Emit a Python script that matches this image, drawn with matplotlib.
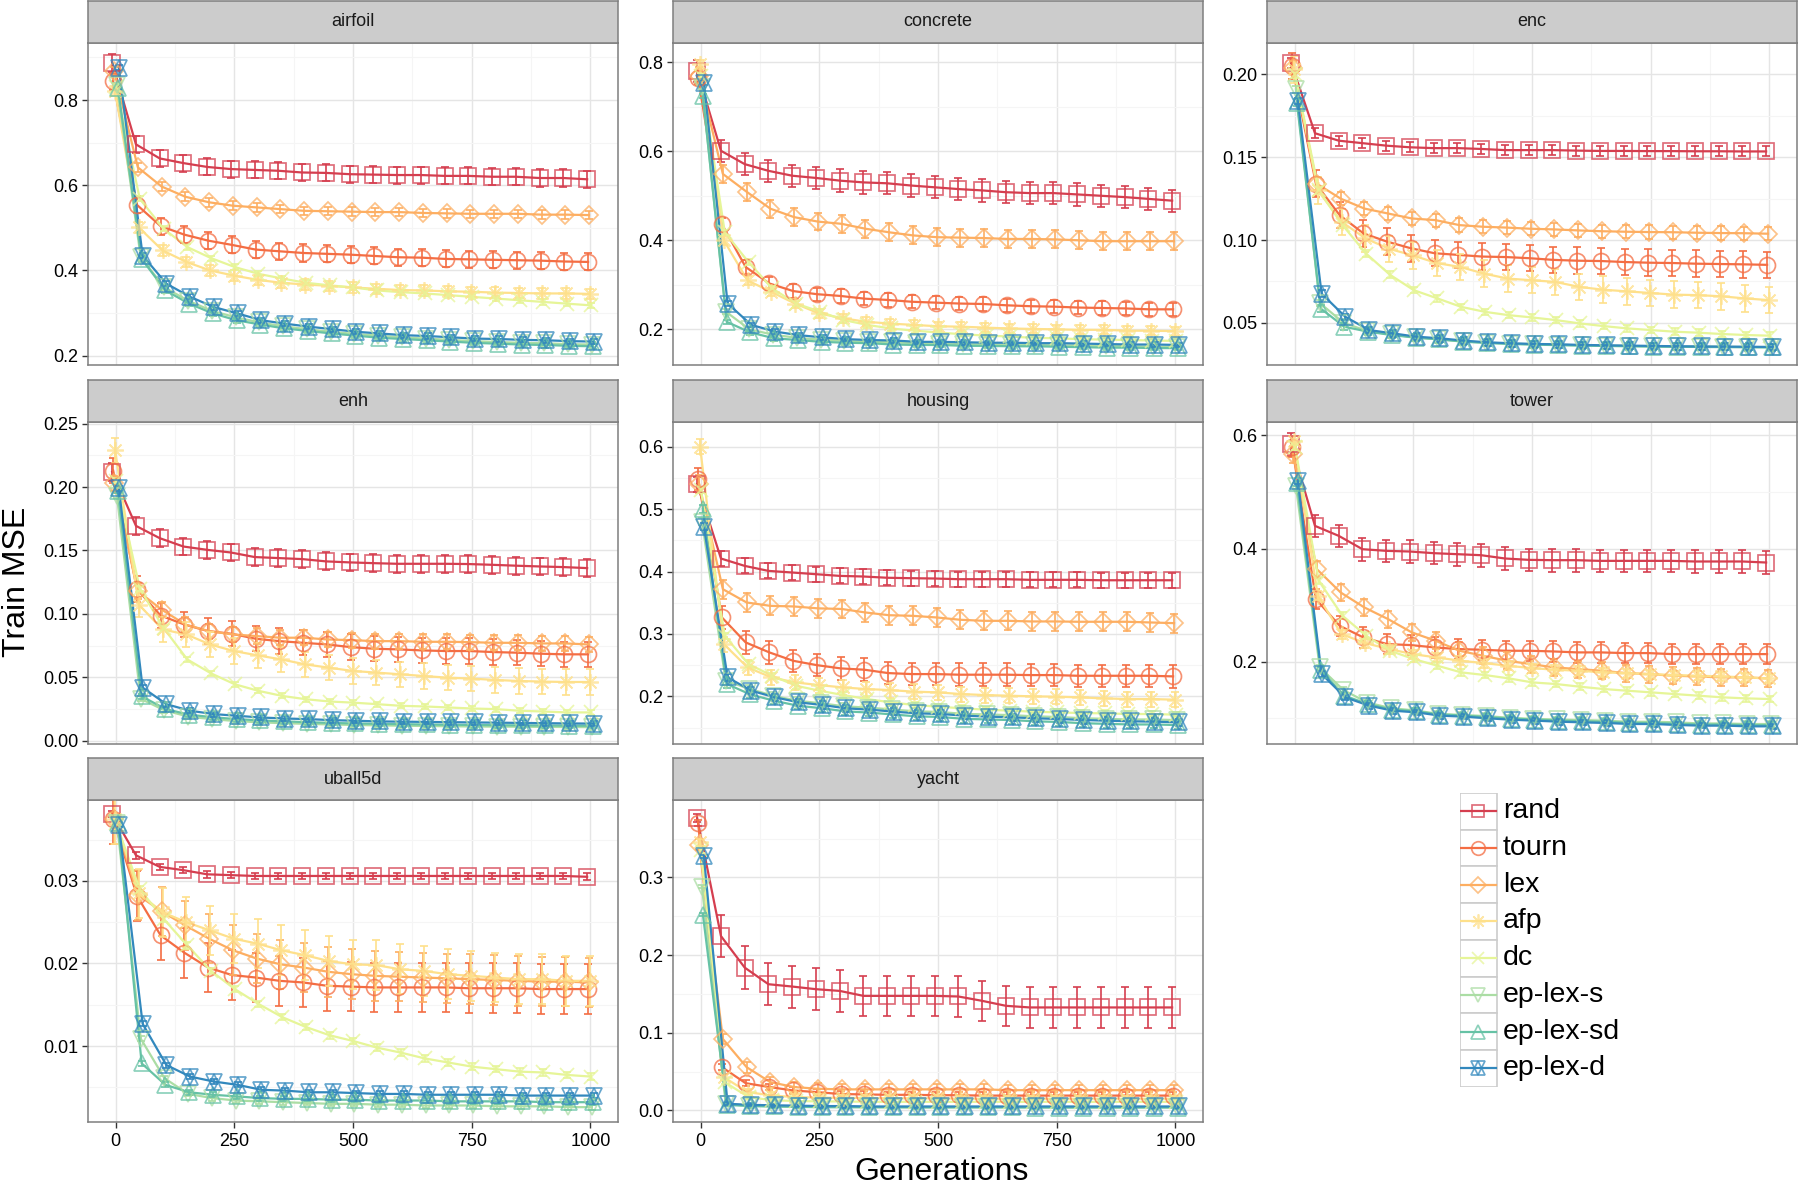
# Curvas de Train MSE por geração, um painel por conjunto de dados (estilo facet_wrap do ggplot).

import matplotlib

matplotlib.use("Agg")

import matplotlib.pyplot as plt
from matplotlib.patches import Rectangle
from matplotlib.ticker import FixedLocator, FormatStrFormatter

plt.rcParams["font.family"] = ["Liberation Sans", "DejaVu Sans"]

# ---------------------------------------------------------------- dados
GENS = list(range(0, 1001, 50))

SERIES = ["rand", "tourn", "lex", "afp", "dc", "ep-lex-s", "ep-lex-sd", "ep-lex-d"]

airfoil = {
    "rand": [0.887, 0.696, 0.663, 0.652, 0.643, 0.638, 0.636, 0.634, 0.630, 0.629, 0.626, 0.625, 0.624, 0.624, 0.622, 0.622, 0.620, 0.620, 0.617, 0.617, 0.614],
    "tourn": [0.844, 0.554, 0.504, 0.484, 0.470, 0.460, 0.449, 0.445, 0.441, 0.439, 0.437, 0.434, 0.431, 0.430, 0.427, 0.426, 0.425, 0.424, 0.423, 0.421, 0.420],
    "lex": [0.868, 0.642, 0.597, 0.573, 0.560, 0.552, 0.548, 0.544, 0.540, 0.539, 0.538, 0.537, 0.537, 0.535, 0.534, 0.533, 0.533, 0.533, 0.531, 0.531, 0.530],
    "afp": [0.821, 0.501, 0.447, 0.420, 0.400, 0.388, 0.378, 0.371, 0.367, 0.364, 0.360, 0.357, 0.354, 0.353, 0.351, 0.350, 0.348, 0.347, 0.346, 0.346, 0.345],
    "dc": [0.831, 0.568, 0.498, 0.455, 0.429, 0.408, 0.392, 0.381, 0.371, 0.365, 0.360, 0.353, 0.349, 0.346, 0.342, 0.338, 0.334, 0.330, 0.326, 0.322, 0.318],
    "ep-lex-s": [0.835, 0.431, 0.360, 0.329, 0.305, 0.290, 0.278, 0.269, 0.262, 0.256, 0.251, 0.247, 0.243, 0.240, 0.237, 0.234, 0.232, 0.230, 0.229, 0.227, 0.226],
    "ep-lex-sd": [0.829, 0.427, 0.353, 0.322, 0.299, 0.283, 0.273, 0.264, 0.258, 0.252, 0.247, 0.242, 0.239, 0.236, 0.233, 0.230, 0.228, 0.226, 0.225, 0.223, 0.222],
    "ep-lex-d": [0.876, 0.435, 0.369, 0.338, 0.314, 0.299, 0.283, 0.275, 0.268, 0.262, 0.256, 0.252, 0.248, 0.246, 0.243, 0.240, 0.239, 0.237, 0.236, 0.234, 0.233],
}
airfoil_err = [0.02, 0.02, 0.01, 0.012, 0.006, 0.006, 0.006, 0.006]

concrete = {
    "rand": [0.780, 0.601, 0.571, 0.556, 0.545, 0.540, 0.534, 0.530, 0.528, 0.523, 0.519, 0.515, 0.512, 0.508, 0.506, 0.506, 0.503, 0.500, 0.497, 0.493, 0.489],
    "tourn": [0.765, 0.436, 0.340, 0.303, 0.286, 0.279, 0.275, 0.269, 0.266, 0.262, 0.260, 0.258, 0.257, 0.254, 0.252, 0.251, 0.249, 0.248, 0.247, 0.245, 0.245],
    "lex": [0.769, 0.549, 0.509, 0.471, 0.452, 0.442, 0.437, 0.426, 0.418, 0.411, 0.407, 0.406, 0.405, 0.403, 0.403, 0.402, 0.400, 0.398, 0.398, 0.398, 0.398],
    "afp": [0.795, 0.400, 0.310, 0.284, 0.258, 0.236, 0.225, 0.217, 0.213, 0.210, 0.207, 0.206, 0.204, 0.202, 0.201, 0.200, 0.199, 0.199, 0.197, 0.197, 0.196],
    "dc": [0.770, 0.418, 0.351, 0.292, 0.258, 0.240, 0.221, 0.210, 0.202, 0.197, 0.193, 0.189, 0.186, 0.184, 0.181, 0.180, 0.178, 0.177, 0.176, 0.175, 0.174],
    "ep-lex-s": [0.745, 0.240, 0.200, 0.188, 0.181, 0.177, 0.174, 0.172, 0.171, 0.169, 0.168, 0.167, 0.166, 0.166, 0.165, 0.164, 0.164, 0.163, 0.162, 0.161, 0.161],
    "ep-lex-sd": [0.724, 0.217, 0.193, 0.180, 0.176, 0.172, 0.170, 0.169, 0.166, 0.165, 0.165, 0.163, 0.163, 0.162, 0.162, 0.161, 0.160, 0.159, 0.159, 0.158, 0.158],
    "ep-lex-d": [0.754, 0.258, 0.210, 0.195, 0.187, 0.182, 0.178, 0.176, 0.175, 0.172, 0.172, 0.171, 0.170, 0.170, 0.169, 0.169, 0.168, 0.167, 0.166, 0.166, 0.165],
}
concrete_err = [0.025, 0.015, 0.02, 0.01, 0.006, 0.005, 0.005, 0.005]

enc = {
    "rand": [0.207, 0.1645, 0.160, 0.1585, 0.157, 0.156, 0.1555, 0.1555, 0.155, 0.1543, 0.1543, 0.1543, 0.154, 0.1538, 0.1538, 0.1537, 0.1537, 0.1536, 0.1536, 0.1535, 0.1535],
    "tourn": [0.205, 0.134, 0.115, 0.104, 0.099, 0.095, 0.092, 0.091, 0.090, 0.0897, 0.089, 0.088, 0.0875, 0.0873, 0.0867, 0.0863, 0.0861, 0.0857, 0.0855, 0.0853, 0.085],
    "lex": [0.204, 0.134, 0.125, 0.119, 0.116, 0.113, 0.112, 0.109, 0.108, 0.1075, 0.1068, 0.1064, 0.1058, 0.1053, 0.105, 0.1048, 0.1047, 0.1044, 0.1042, 0.1041, 0.1038],
    "afp": [0.203, 0.130, 0.111, 0.101, 0.0947, 0.0907, 0.0861, 0.0837, 0.0797, 0.0767, 0.0757, 0.0747, 0.0717, 0.070, 0.069, 0.068, 0.067, 0.0667, 0.066, 0.0647, 0.0637],
    "dc": [0.200, 0.130, 0.109, 0.0917, 0.079, 0.0697, 0.0647, 0.0596, 0.0566, 0.0546, 0.0532, 0.0516, 0.0496, 0.048, 0.0466, 0.0456, 0.0446, 0.044, 0.0432, 0.0426, 0.0422],
    "ep-lex-s": [0.191, 0.062, 0.050, 0.045, 0.043, 0.0412, 0.040, 0.0388, 0.038, 0.0374, 0.037, 0.0367, 0.0364, 0.0362, 0.036, 0.0358, 0.0357, 0.0356, 0.0355, 0.0354, 0.0353],
    "ep-lex-sd": [0.183, 0.0586, 0.0476, 0.0446, 0.0426, 0.041, 0.040, 0.0386, 0.0378, 0.0372, 0.0368, 0.0365, 0.0362, 0.036, 0.0358, 0.0356, 0.0355, 0.0354, 0.0353, 0.0352, 0.0351],
    "ep-lex-d": [0.184, 0.0676, 0.0536, 0.0456, 0.0436, 0.0416, 0.0406, 0.0392, 0.0382, 0.0376, 0.0372, 0.037, 0.0366, 0.0364, 0.0362, 0.036, 0.0358, 0.0357, 0.0356, 0.0355, 0.0354],
}
enc_err = [0.003, 0.008, 0.004, 0.008, 0.002, 0.002, 0.002, 0.002]

enh = {
    "rand": [0.212, 0.1694, 0.1597, 0.1531, 0.1505, 0.1484, 0.1448, 0.144, 0.1432, 0.1414, 0.1406, 0.140, 0.1395, 0.1395, 0.1395, 0.1393, 0.1387, 0.138, 0.1374, 0.1369, 0.1361],
    "tourn": [0.213, 0.1196, 0.0987, 0.0916, 0.0864, 0.0843, 0.0804, 0.0785, 0.0772, 0.0759, 0.0738, 0.0725, 0.072, 0.0712, 0.0707, 0.0707, 0.0699, 0.0694, 0.0686, 0.0681, 0.0681],
    "lex": [0.203, 0.118, 0.1034, 0.0916, 0.0864, 0.0838, 0.0825, 0.0812, 0.0812, 0.0798, 0.0793, 0.0785, 0.0785, 0.078, 0.078, 0.0777, 0.0772, 0.0772, 0.0767, 0.0767, 0.0759],
    "afp": [0.229, 0.1073, 0.0877, 0.0838, 0.0759, 0.0707, 0.0673, 0.0641, 0.0602, 0.0576, 0.055, 0.0537, 0.0524, 0.051, 0.0497, 0.049, 0.0479, 0.0471, 0.0466, 0.0463, 0.0463],
    "dc": [0.205, 0.120, 0.089, 0.0641, 0.0531, 0.0445, 0.0393, 0.0353, 0.0327, 0.0309, 0.030, 0.0288, 0.0275, 0.027, 0.0262, 0.0254, 0.0249, 0.0236, 0.023, 0.0223, 0.0223],
    "ep-lex-s": [0.193, 0.033, 0.024, 0.019, 0.017, 0.0155, 0.0145, 0.0138, 0.0133, 0.0128, 0.0124, 0.0121, 0.0118, 0.0116, 0.0114, 0.0112, 0.0111, 0.011, 0.0109, 0.0108, 0.0107],
    "ep-lex-sd": [0.197, 0.035, 0.025, 0.0205, 0.0185, 0.017, 0.016, 0.0152, 0.0146, 0.014, 0.0136, 0.0133, 0.013, 0.0128, 0.0126, 0.0124, 0.0122, 0.0121, 0.012, 0.0119, 0.0118],
    "ep-lex-d": [0.199, 0.0419, 0.0288, 0.0236, 0.021, 0.0196, 0.0183, 0.0175, 0.017, 0.0162, 0.0157, 0.0152, 0.015, 0.0148, 0.0146, 0.0144, 0.0142, 0.014, 0.0138, 0.0136, 0.0135],
}
enh_err = [0.007, 0.01, 0.006, 0.01, 0.002, 0.002, 0.002, 0.002]

housing = {
    "rand": [0.540, 0.4208, 0.409, 0.401, 0.3984, 0.3957, 0.393, 0.392, 0.390, 0.3893, 0.3888, 0.3877, 0.3877, 0.3877, 0.3867, 0.3867, 0.3867, 0.386, 0.386, 0.386, 0.386],
    "tourn": [0.548, 0.3264, 0.2864, 0.2704, 0.257, 0.250, 0.2448, 0.2427, 0.2373, 0.2357, 0.2357, 0.2347, 0.2347, 0.2347, 0.2341, 0.2341, 0.233, 0.233, 0.233, 0.233, 0.232],
    "lex": [0.540, 0.3717, 0.3504, 0.345, 0.344, 0.341, 0.340, 0.3344, 0.330, 0.329, 0.3264, 0.3227, 0.321, 0.321, 0.320, 0.320, 0.3195, 0.3195, 0.3195, 0.3184, 0.3173],
    "afp": [0.600, 0.2837, 0.2464, 0.2304, 0.2224, 0.2181, 0.2144, 0.2117, 0.2101, 0.2075, 0.2064, 0.2037, 0.2021, 0.2011, 0.200, 0.1995, 0.1984, 0.1968, 0.1957, 0.1957, 0.1947],
    "dc": [0.530, 0.297, 0.2517, 0.233, 0.217, 0.209, 0.202, 0.1957, 0.1904, 0.1861, 0.1835, 0.1808, 0.1787, 0.1771, 0.1755, 0.1744, 0.1733, 0.1728, 0.1717, 0.1717, 0.1707],
    "ep-lex-s": [0.480, 0.225, 0.212, 0.201, 0.193, 0.189, 0.184, 0.182, 0.179, 0.176, 0.175, 0.172, 0.171, 0.170, 0.168, 0.167, 0.165, 0.164, 0.163, 0.163, 0.162],
    "ep-lex-sd": [0.500, 0.220, 0.203, 0.193, 0.185, 0.181, 0.176, 0.174, 0.171, 0.168, 0.167, 0.164, 0.163, 0.162, 0.160, 0.159, 0.157, 0.156, 0.155, 0.155, 0.154],
    "ep-lex-d": [0.472, 0.2304, 0.209, 0.1984, 0.1904, 0.1861, 0.1808, 0.1787, 0.1755, 0.1728, 0.1717, 0.169, 0.1675, 0.1664, 0.1648, 0.1637, 0.1621, 0.161, 0.160, 0.1595, 0.1584],
}
housing_err = [0.012, 0.018, 0.015, 0.012, 0.005, 0.006, 0.006, 0.006]

tower = {
    "rand": [0.584, 0.440, 0.4224, 0.3988, 0.3959, 0.3947, 0.3918, 0.390, 0.3882, 0.3824, 0.380, 0.3794, 0.3794, 0.3782, 0.3782, 0.3782, 0.3782, 0.3771, 0.3771, 0.3771, 0.3753],
    "tourn": [0.580, 0.3106, 0.2635, 0.2429, 0.2312, 0.2294, 0.2253, 0.2224, 0.2212, 0.2194, 0.2194, 0.2182, 0.2165, 0.2165, 0.2153, 0.2153, 0.2135, 0.2135, 0.2135, 0.2135, 0.2135],
    "lex": [0.5665, 0.3635, 0.3224, 0.2959, 0.2753, 0.2518, 0.2371, 0.2194, 0.2106, 0.2018, 0.1959, 0.190, 0.1871, 0.1841, 0.180, 0.1782, 0.1753, 0.1741, 0.1724, 0.1724, 0.1706],
    "afp": [0.590, 0.3165, 0.2488, 0.2329, 0.2224, 0.2135, 0.2076, 0.2018, 0.1976, 0.1929, 0.1888, 0.1859, 0.1841, 0.1812, 0.180, 0.1782, 0.1765, 0.1753, 0.1741, 0.1724, 0.1706],
    "dc": [0.580, 0.343, 0.2812, 0.2459, 0.2194, 0.2047, 0.1929, 0.1812, 0.1765, 0.1706, 0.1635, 0.1606, 0.1559, 0.1518, 0.1488, 0.1459, 0.1429, 0.140, 0.1371, 0.1353, 0.1341],
    "ep-lex-s": [0.510, 0.190, 0.150, 0.128, 0.118, 0.114, 0.108, 0.106, 0.104, 0.101, 0.099, 0.098, 0.097, 0.096, 0.094, 0.094, 0.093, 0.091, 0.091, 0.090, 0.090],
    "ep-lex-sd": [0.515, 0.185, 0.140, 0.125, 0.1155, 0.1125, 0.1067, 0.105, 0.102, 0.0996, 0.0979, 0.0961, 0.0949, 0.0938, 0.092, 0.092, 0.0902, 0.0891, 0.0891, 0.0879, 0.0879],
    "ep-lex-d": [0.5194, 0.1782, 0.137, 0.1224, 0.1135, 0.1106, 0.1047, 0.103, 0.100, 0.0976, 0.0959, 0.0941, 0.0929, 0.0918, 0.090, 0.090, 0.0882, 0.0871, 0.0871, 0.0859, 0.0859],
}
tower_err = [0.02, 0.018, 0.015, 0.008, 0.006, 0.005, 0.005, 0.005]

uball5d = {
    "rand": [0.0381, 0.0331, 0.0317, 0.0313, 0.0308, 0.0307, 0.0306, 0.0306, 0.0306, 0.0306, 0.0306, 0.0306, 0.0306, 0.0306, 0.0306, 0.0306, 0.0306, 0.0306, 0.0306, 0.0306, 0.0305],
    "tourn": [0.0375, 0.0282, 0.0234, 0.0213, 0.0195, 0.0186, 0.0183, 0.0179, 0.0177, 0.0173, 0.0172, 0.0171, 0.0171, 0.0171, 0.0171, 0.017, 0.017, 0.017, 0.0169, 0.0169, 0.0169],
    "lex": [0.0375, 0.0283, 0.0263, 0.0246, 0.023, 0.0216, 0.0206, 0.0199, 0.0195, 0.019, 0.0187, 0.0185, 0.0184, 0.0183, 0.0182, 0.0181, 0.018, 0.0179, 0.0178, 0.0178, 0.0177],
    "afp": [0.0375, 0.0285, 0.0262, 0.025, 0.024, 0.023, 0.0224, 0.0216, 0.021, 0.0203, 0.0199, 0.0198, 0.0193, 0.0191, 0.0187, 0.0185, 0.0183, 0.0181, 0.0181, 0.0179, 0.0179],
    "dc": [0.037, 0.029, 0.0254, 0.0222, 0.0191, 0.0169, 0.0151, 0.0135, 0.0123, 0.0113, 0.0106, 0.0098, 0.0092, 0.0085, 0.008, 0.0075, 0.0072, 0.0069, 0.0068, 0.0065, 0.0063],
    "ep-lex-s": [0.037, 0.0109, 0.0061, 0.0042, 0.0037, 0.0034, 0.0033, 0.0032, 0.0031, 0.003, 0.003, 0.0029, 0.0029, 0.0028, 0.0028, 0.0028, 0.0027, 0.0027, 0.0027, 0.0026, 0.0026],
    "ep-lex-sd": [0.037, 0.0079, 0.0053, 0.0044, 0.0041, 0.0039, 0.0037, 0.0036, 0.0036, 0.0035, 0.0035, 0.0034, 0.0034, 0.0034, 0.0033, 0.0033, 0.0033, 0.0033, 0.0032, 0.0032, 0.0032],
    "ep-lex-d": [0.0368, 0.0127, 0.0077, 0.0063, 0.0057, 0.0053, 0.0047, 0.0046, 0.0044, 0.0044, 0.0043, 0.0042, 0.0042, 0.0041, 0.0041, 0.0041, 0.0041, 0.004, 0.004, 0.004, 0.004],
}
uball5d_err = [0.0004, 0.003, 0.003, 0.003, 0.0004, 0.0003, 0.0003, 0.0003]

yacht = {
    "rand": [0.376, 0.2244, 0.1838, 0.1624, 0.1594, 0.156, 0.1538, 0.1474, 0.1474, 0.1474, 0.1474, 0.1466, 0.141, 0.1346, 0.1325, 0.1325, 0.1325, 0.1325, 0.1325, 0.1325, 0.1325],
    "tourn": [0.370, 0.0556, 0.035, 0.030, 0.0256, 0.0235, 0.021, 0.0205, 0.020, 0.020, 0.0195, 0.0195, 0.019, 0.019, 0.019, 0.019, 0.019, 0.019, 0.019, 0.019, 0.019],
    "lex": [0.342, 0.0919, 0.0556, 0.0363, 0.030, 0.0278, 0.027, 0.027, 0.027, 0.027, 0.027, 0.027, 0.027, 0.026, 0.026, 0.026, 0.026, 0.026, 0.026, 0.026, 0.026],
    "afp": [0.345, 0.0427, 0.0235, 0.0192, 0.017, 0.0165, 0.016, 0.016, 0.0155, 0.0155, 0.0155, 0.015, 0.015, 0.015, 0.015, 0.015, 0.015, 0.015, 0.015, 0.015, 0.015],
    "dc": [0.335, 0.0363, 0.0171, 0.013, 0.012, 0.0115, 0.0115, 0.011, 0.011, 0.011, 0.011, 0.011, 0.011, 0.011, 0.011, 0.011, 0.011, 0.011, 0.011, 0.011, 0.011],
    "ep-lex-s": [0.288, 0.008, 0.006, 0.005, 0.005, 0.0045, 0.0045, 0.004, 0.004, 0.004, 0.004, 0.004, 0.004, 0.004, 0.004, 0.004, 0.004, 0.004, 0.004, 0.004, 0.004],
    "ep-lex-sd": [0.252, 0.007, 0.0055, 0.005, 0.0045, 0.004, 0.004, 0.004, 0.004, 0.0038, 0.0038, 0.0038, 0.0038, 0.0038, 0.0036, 0.0036, 0.0036, 0.0036, 0.0036, 0.0036, 0.0036],
    "ep-lex-d": [0.327, 0.0085, 0.007, 0.0065, 0.006, 0.0055, 0.0055, 0.005, 0.005, 0.005, 0.005, 0.005, 0.005, 0.005, 0.005, 0.005, 0.005, 0.005, 0.005, 0.005, 0.005],
}
# o erro do rand no yacht varia ao longo das gerações
yacht_rand_err = [0.005, 0.027, 0.028, 0.027, 0.027, 0.027, 0.027, 0.026, 0.026, 0.026, 0.026, 0.026, 0.026, 0.026, 0.026, 0.026, 0.026, 0.026, 0.026, 0.026, 0.026]
yacht_err = [yacht_rand_err, 0.004, 0.007, 0.004, 0.003, 0.002, 0.002, 0.002]

# (nome, dados, erro, ticks do eixo y, formato, limites do eixo y)
PAINEIS = [
    ("airfoil", airfoil, airfoil_err, [0.2, 0.4, 0.6, 0.8], "%.1f", (0.178, 0.934)),
    ("concrete", concrete, concrete_err, [0.2, 0.4, 0.6, 0.8], "%.1f", (0.120, 0.843)),
    ("enc", enc, enc_err, [0.05, 0.10, 0.15, 0.20], "%.2f", (0.0245, 0.219)),
    ("enh", enh, enh_err, [0.00, 0.05, 0.10, 0.15, 0.20, 0.25], "%.2f", (-0.0026, 0.2513)),
    ("housing", housing, housing_err, [0.2, 0.3, 0.4, 0.5, 0.6], "%.1f", (0.1237, 0.6395)),
    ("tower", tower, tower_err, [0.2, 0.4, 0.6], "%.1f", (0.0547, 0.6235)),
    ("uball5d", uball5d, uball5d_err, [0.01, 0.02, 0.03], "%.2f", (0.0008, 0.0398)),
    ("yacht", yacht, yacht_err, [0.0, 0.1, 0.2, 0.3], "%.1f", (-0.015, 0.3996)),
]

X_TICKS = [0, 250, 500, 750, 1000]

# ---------------------------------------------------------------- estilo
CORES = ["#D53E4F", "#F46D43", "#FDAE61", "#FEE08B", "#E6F598", "#ABDDA4", "#66C2A5", "#3288BD"]
MARCADORES = ["s", "o", "D", (8, 2, 0), "x", "v", "^", "hexagrama"]
TAMANHOS = [11.0, 11.5, 9.5, 12.0, 9.5, 11.5, 11.5, 11.5]

W, H, DPI = 1800, 1187, 100
COL_ESQ = [88, 673, 1267]
LARG = 530
LINHA_TOPO = [43, 422, 800]
ALT = 322
STRIP = 42

BORDA = "#7F7F7F"


def _rect(left, top, w, h):
    return [left / W, (H - top - h) / H, w / W, h / H]


def _marcador(ax, x, y, idx, escala=1.0, **kw):
    # o hexagrama do ggplot (shape 11) é a sobreposição de dois triângulos
    estilo = dict(linestyle="none", mfc="none", mec=CORES[idx], mew=1.25,
                  ms=TAMANHOS[idx] * escala, alpha=0.75)
    estilo.update(kw)
    if MARCADORES[idx] == "hexagrama":
        ax.plot(x, y, marker="^", **estilo)
        ax.plot(x, y, marker="v", **estilo)
    else:
        ax.plot(x, y, marker=MARCADORES[idx], **estilo)


def _painel(fig, k, nome, dados, erros, yticks, fmt, ylim, com_eixo_x):
    lin, col = divmod(k, 3)
    esq, topo = COL_ESQ[col], LINHA_TOPO[lin]

    ax = fig.add_axes(_rect(esq, topo, LARG, ALT))
    ax.set_facecolor("white")

    for i, serie in enumerate(SERIES):
        # pequeno deslocamento horizontal (position_dodge)
        xs = [g + (i - 3.5) * 2 for g in GENS]
        ys = dados[serie]
        ax.errorbar(xs, ys, yerr=erros[i], fmt="none", ecolor=CORES[i],
                    elinewidth=1.2, capsize=2.8, capthick=1.2, zorder=3)
        ax.plot(xs, ys, "-", color=CORES[i], lw=1.6, zorder=3)
        _marcador(ax, xs, ys, i, zorder=4)

    ax.set_xlim(-58, 1058)
    ax.set_ylim(*ylim)

    ax.yaxis.set_major_locator(FixedLocator(yticks))
    ax.yaxis.set_major_formatter(FormatStrFormatter(fmt))
    passo = yticks[1] - yticks[0]
    menores = [yticks[0] - passo / 2] + [t + passo / 2 for t in yticks]
    ax.yaxis.set_minor_locator(FixedLocator(menores))
    ax.xaxis.set_major_locator(FixedLocator(X_TICKS))
    ax.xaxis.set_minor_locator(FixedLocator([125, 375, 625, 875]))

    ax.grid(which="major", color="#E5E5E5", lw=1.0, zorder=0)
    ax.grid(which="minor", color="#F5F5F5", lw=0.8, zorder=0)
    ax.set_axisbelow(True)

    ax.tick_params(which="minor", length=0)
    ax.tick_params(axis="y", which="major", length=4, width=1.0, color="#333333",
                   labelsize=13, pad=3)
    if com_eixo_x:
        ax.tick_params(axis="x", which="major", length=4, width=1.0, color="#333333",
                       labelsize=13, pad=4)
    else:
        ax.tick_params(axis="x", which="major", length=0, labelbottom=False)

    for sp in ax.spines.values():
        sp.set_color(BORDA)
        sp.set_linewidth(1.1)

    # faixa cinza com o nome do conjunto de dados
    st = fig.add_axes(_rect(esq, topo - STRIP, LARG, STRIP))
    st.set_facecolor("#CCCCCC")
    st.set_xticks([])
    st.set_yticks([])
    for sp in st.spines.values():
        sp.set_color(BORDA)
        sp.set_linewidth(1.1)
    st.text(0.5, 0.5, nome, ha="center", va="center", fontsize=13,
            color="#1A1A1A", transform=st.transAxes)


def _legenda(fig):
    chave = 36.7
    n = len(SERIES)
    lax = fig.add_axes(_rect(1460, 793, 320, n * chave))
    lax.set_xlim(0, 320)
    lax.set_ylim(n * chave, 0)
    lax.axis("off")
    for i, serie in enumerate(SERIES):
        y0 = i * chave
        lax.add_patch(Rectangle((0, y0), chave, chave, facecolor="white",
                                edgecolor="#CCCCCC", lw=1.2))
        cy = y0 + chave / 2
        lax.plot([1, chave - 1], [cy, cy], color=CORES[i], lw=1.6)
        _marcador(lax, [chave / 2], [cy], i, escala=0.85)
        lax.text(chave + 6, cy, serie, ha="left", va="center", fontsize=20.5,
                 color="black")


def main():
    fig = plt.figure(figsize=(W / DPI, H / DPI), dpi=DPI)
    fig.patch.set_facecolor("white")

    for k, (nome, dados, erros, yticks, fmt, ylim) in enumerate(PAINEIS):
        com_eixo_x = k >= 6
        _painel(fig, k, nome, dados, erros, yticks, fmt, ylim, com_eixo_x)

    _legenda(fig)

    fig.text(17 / W, 1 - 582 / H, "Train MSE", rotation=90, ha="center",
             va="center", fontsize=23)
    fig.text(942 / W, 1 - 1172 / H, "Generations", ha="center", va="center",
             fontsize=23)

    fig.savefig("out.png", dpi=DPI)
    plt.close(fig)


main()
